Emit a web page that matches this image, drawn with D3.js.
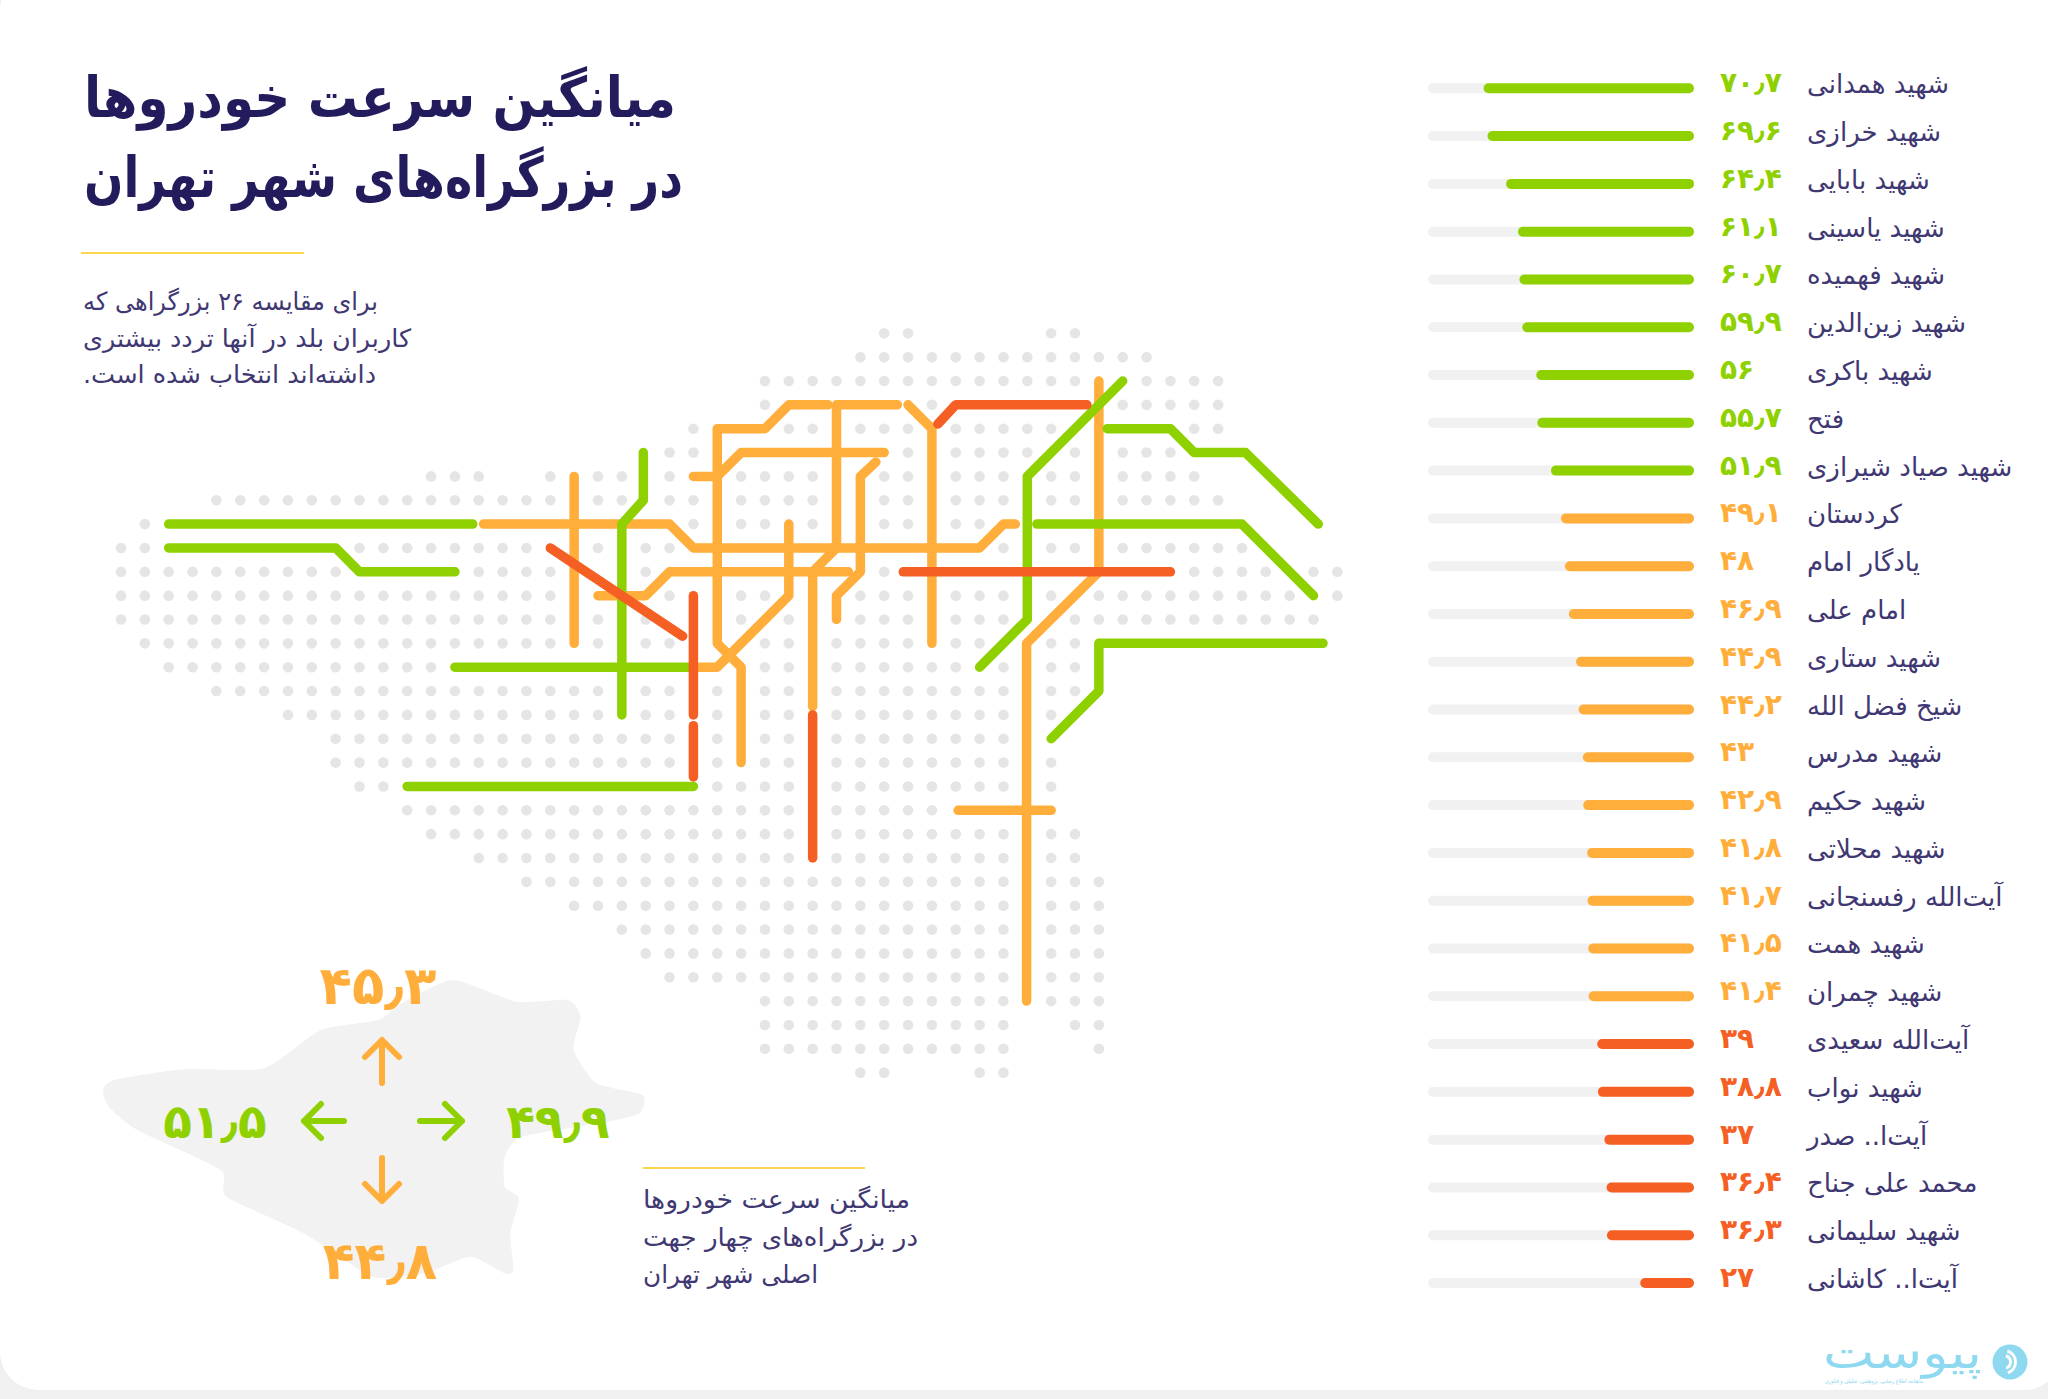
<!DOCTYPE html>
<html lang="fa">
<head>
<meta charset="utf-8">
<title>میانگین سرعت خودروها</title>
<script src="https://cdn.jsdelivr.net/npm/d3@7/dist/d3.min.js"></script>
<style>
  html, body { margin: 0; padding: 0; background: #f0f0f0; }
  svg { display: block; }
  text { font-family: "DejaVu Sans", "Noto Sans", sans-serif; }
</style>
</head>
<body>
<div id="chart"></div>
<script>
// highways, sorted by average speed
var highwayNames = [
  'شهید همدانی', 'شهید خرازی', 'شهید بابایی', 'شهید یاسینی', 'شهید فهمیده', 'شهید زین‌الدین',
  'شهید باکری', 'فتح', 'شهید صیاد شیرازی', 'کردستان', 'یادگار امام', 'امام علی', 'شهید ستاری',
  'شیخ فضل الله', 'شهید مدرس', 'شهید حکیم', 'شهید محلاتی', 'آیت‌الله رفسنجانی', 'شهید همت',
  'شهید چمران', 'آیت‌الله سعیدی', 'شهید نواب', 'آیت‌ا.. صدر', 'محمد علی جناح', 'شهید سلیمانی',
  'آیت‌ا.. کاشانی'
];
var highwaySpeeds = [
  70.7, 69.6, 64.4, 61.1, 60.7, 59.9, 56, 55.7, 51.9, 49.1, 48, 46.9, 44.9,
  44.2, 43, 42.9, 41.8, 41.7, 41.5, 41.4, 39, 38.8, 37, 36.4, 36.3, 27
];

// four main directions of the city
var directionNames = ['north', 'west', 'east', 'south'];
var directionSpeeds = [45.3, 51.5, 49.9, 44.8];

// map lines, as [column, row] on the dot grid
var greenLines = [
  [[2, 8], [14.75, 8]],
  [[2, 9], [9, 9], [10, 10], [14, 10]],
  [[21.9, 5], [21.9, 7], [21, 8], [21, 16]],
  [[14, 14], [24, 14]],
  [[12, 19], [24, 19]],
  [[42, 2], [38, 6], [38, 12], [36, 14]],
  [[41.35, 4], [44, 4], [45, 5], [47.15, 5], [50.2, 8]],
  [[38.4, 8], [47, 8], [50, 11]],
  [[50.4, 13], [41, 13], [41, 15], [39, 17]]
];
var orangeLines = [
  [[29.65, 3], [28, 3], [27, 4], [25, 4], [25, 13], [26, 14], [26, 18]],
  [[24, 6], [25, 6], [26, 5], [32, 5]],
  [[32.55, 3], [30, 3], [30, 9], [29, 10], [29, 15.65]],
  [[33, 3], [34, 4], [34, 13]],
  [[31.65, 5.4], [31, 6], [31, 10], [30, 11], [30, 12]],
  [[15.2, 8], [23, 8], [24, 9], [36, 9], [37, 8], [37.5, 8]],
  [[20, 11], [22, 11], [23, 10], [30.5, 10]],
  [[19, 6], [19, 13]],
  [[28, 8], [28, 11], [25, 14], [24, 14]],
  [[41, 2], [41, 10], [37.97, 13], [37.97, 28]],
  [[35.1, 20], [39, 20]]
];
var redLines = [
  [[18, 9], [23.55, 12.7]],
  [[24, 11], [24, 16]],
  [[24, 16.45], [24, 18.6]],
  [[34.25, 3.8], [35, 3], [40.5, 3]],
  [[32.8, 10], [44, 10]],
  [[29, 16], [29, 22]]
];

// dot grid, one list of [from, to] columns per row
var dotRows = [
  [[32, 33], [39, 40]],
  [[31, 43]],
  [[27, 40], [43, 46]],
  [[27, 27], [34, 34], [42, 46]],
  [[24, 24], [28, 29], [31, 33], [35, 39], [45, 46]],
  [[23, 24], [33, 33], [35, 38], [40, 40], [42, 44]],
  [[13, 15], [18, 18], [20, 21], [23, 23], [26, 29], [32, 33], [35, 37], [39, 40], [42, 45]],
  [[4, 18], [20, 21], [23, 24], [26, 29], [32, 33], [35, 37], [39, 40], [42, 46]],
  [[1, 1], [24, 24], [26, 27], [29, 29], [32, 33], [35, 36]],
  [[0, 1], [10, 17], [20, 20], [22, 23], [37, 37], [39, 40], [42, 47]],
  [[0, 9], [15, 18], [22, 22], [32, 32], [45, 48], [50, 51]],
  [[0, 18], [23, 23], [26, 27], [31, 33], [35, 37], [39, 39], [41, 49], [51, 51]],
  [[0, 18], [20, 20], [22, 22], [26, 26], [28, 28], [31, 33], [35, 37], [40, 50]],
  [[1, 18], [20, 20], [22, 23], [27, 28], [30, 33], [35, 36], [39, 40]],
  [[2, 13], [27, 28], [30, 35], [37, 37], [39, 40]],
  [[4, 20], [22, 23], [25, 25], [27, 28], [30, 37], [39, 40]],
  [[7, 20], [22, 23], [25, 25], [27, 28], [30, 37], [39, 39]],
  [[9, 23], [25, 25], [27, 28], [30, 37]],
  [[9, 23], [25, 25], [27, 28], [30, 37], [39, 39]],
  [[10, 11], [25, 28], [30, 37], [39, 39]],
  [[12, 28], [30, 34]],
  [[13, 28], [30, 37], [39, 40]],
  [[15, 28], [30, 37], [39, 40]],
  [[17, 37], [39, 41]],
  [[19, 37], [39, 41]],
  [[21, 37], [39, 41]],
  [[22, 37], [39, 41]],
  [[23, 37], [39, 41]],
  [[27, 37], [39, 41]],
  [[27, 37], [40, 41]],
  [[27, 37], [41, 41]],
  [[31, 32], [36, 37]]
];

// outline of Tehran province, in its own 1568 x 1200 units
var provinceOutline = [
  [40, 450], [60, 420], [180, 388], [320, 385], [420, 270], [520, 240], [560, 190], [650, 120],
  [760, 185], [850, 180], [872, 230], [860, 330], [900, 430], [980, 465], [975, 520], [920, 545],
  [770, 590], [740, 650], [740, 740], [765, 775], [750, 880], [755, 990], [740, 1000], [680, 950],
  [600, 1000], [510, 1010], [390, 880], [255, 770], [245, 690], [100, 570], [50, 500]
];

var titleLines = ['میانگین سرعت خودروها', 'در بزرگراه‌های شهر تهران'];
var introLines = ['برای مقایسه ۲۶ بزرگراهی که', 'کاربران بلد در آنها تردد بیشتری', 'داشته‌اند انتخاب شده است.'];
var noteLines = ['میانگین سرعت خودروها', 'در بزرگراه‌های چهار جهت', 'اصلی شهر تهران'];

var colors = { green: '#8fd100', orange: '#ffae3b', red: '#f55f24', navy: '#231c5c', body: '#3f3872',
  track: '#f1f1f1', dot: '#e5e5e5', land: '#f2f2f2', rule: '#ffd44f', logo: '#8ed8f0' };

var width = 2048, height = 1399;

var svg = d3.select('#chart').append('svg')
  .attr('width', width)
  .attr('height', height);

// white card, cut by the top and right of the page
svg.append('rect')
  .attr('x', 0).attr('y', -28)
  .attr('width', 2062).attr('height', 1418)
  .attr('rx', 38)
  .attr('fill', '#fff');

var persianDigits = '۰۱۲۳۴۵۶۷۸۹';
function toPersian(v) {
  return String(v).replace('.', '٫').replace(/\d/g, function(d) { return persianDigits[d]; });
}

// speed colour bands
var speedColor = d3.scaleThreshold().domain([40, 49.5]).range([colors.red, colors.orange, colors.green]);

// right-to-left block of lines, left aligned and fitted to the given widths
function textBlock(lines, x, y, step, size, widths, weight, color) {
  svg.append('g').attr('direction', 'rtl').selectAll('text').data(lines).join('text')
    .attr('x', x)
    .attr('y', function(d, i) { return y + i * step; })
    .attr('text-anchor', 'end')
    .attr('font-size', size)
    .attr('font-weight', weight)
    .attr('fill', color)
    .attr('textLength', function(d, i) { return widths[i]; })
    .attr('lengthAdjust', 'spacingAndGlyphs')
    .text(function(d) { return d; });
}

// ---- header ----
textBlock(titleLines, 84, 117, 80, 56, [592, 599], 700, colors.navy);

svg.append('line')
  .attr('x1', 81).attr('x2', 304).attr('y1', 253).attr('y2', 253)
  .attr('stroke', colors.rule).attr('stroke-width', 2);

textBlock(introLines, 83, 310, 36.5, 25, [295, 328, 293], 400, colors.body);

// ---- dot map ----
var gridX = d3.scaleLinear().domain([0, 1]).range([121, 144.85]);
var gridY = d3.scaleLinear().domain([0, 1]).range([333.3, 357.15]);

var dots = [];
dotRows.forEach(function(spans, row) {
  spans.forEach(function(span) {
    d3.range(span[0], span[1] + 1).forEach(function(col) { dots.push([col, row]); });
  });
});

svg.append('g').selectAll('circle').data(dots).join('circle')
  .attr('cx', function(d) { return gridX(d[0]); })
  .attr('cy', function(d) { return gridY(d[1]); })
  .attr('r', 5.3)
  .attr('fill', colors.dot);

var mapLine = d3.line()
  .x(function(d) { return gridX(d[0]); })
  .y(function(d) { return gridY(d[1]); });

[[orangeLines, colors.orange], [greenLines, colors.green], [redLines, colors.red]].forEach(function(group) {
  svg.append('g').selectAll('path').data(group[0]).join('path')
    .attr('d', mapLine)
    .attr('fill', 'none')
    .attr('stroke', group[1])
    .attr('stroke-width', 9.5)
    .attr('stroke-linecap', 'round')
    .attr('stroke-linejoin', 'round');
});

// ---- province and directions ----
var outlineX = d3.scaleLinear().domain([0, 1568]).range([80, 980]);
var outlineY = d3.scaleLinear().domain([0, 1200]).range([940, 1340]);

svg.append('path')
  .datum(provinceOutline)
  .attr('d', d3.line()
    .x(function(d) { return outlineX(d[0]); })
    .y(function(d) { return outlineY(d[1]); })
    .curve(d3.curveCardinalClosed.tension(0.4)))
  .attr('fill', colors.land);

var directionLayout = {
  north: { x: 378, y: 1004, size: 53, arrow: [[382, 1083], [382, 1040]] },
  west: { x: 215, y: 1138, size: 47, arrow: [[344, 1121], [304, 1121]] },
  east: { x: 558, y: 1138, size: 47, arrow: [[420, 1121], [462, 1121]] },
  south: { x: 380, y: 1279, size: 52, arrow: [[382, 1158], [382, 1201]] }
};

var direction = svg.append('g').selectAll('g')
  .data(directionNames.map(function(name, i) { return { name: name, speed: directionSpeeds[i] }; }))
  .join('g');

direction.append('text')
  .attr('x', function(d) { return directionLayout[d.name].x; })
  .attr('y', function(d) { return directionLayout[d.name].y; })
  .attr('text-anchor', 'middle')
  .attr('font-size', function(d) { return directionLayout[d.name].size; })
  .attr('font-weight', 700)
  .attr('fill', function(d) { return speedColor(d.speed); })
  .text(function(d) { return toPersian(d.speed); });

// shaft plus a two-stroke head
direction.append('path')
  .attr('d', function(d) {
    var a = directionLayout[d.name].arrow,
        ux = Math.sign(a[1][0] - a[0][0]),
        uy = Math.sign(a[1][1] - a[0][1]),
        p = d3.path();
    p.moveTo(a[0][0], a[0][1]);
    p.lineTo(a[1][0], a[1][1]);
    p.moveTo(a[1][0] - ux * 17 + uy * 17, a[1][1] - uy * 17 + ux * 17);
    p.lineTo(a[1][0], a[1][1]);
    p.lineTo(a[1][0] - ux * 17 - uy * 17, a[1][1] - uy * 17 - ux * 17);
    return p.toString();
  })
  .attr('fill', 'none')
  .attr('stroke', function(d) { return speedColor(d.speed); })
  .attr('stroke-width', 6)
  .attr('stroke-linecap', 'round')
  .attr('stroke-linejoin', 'round');

svg.append('line')
  .attr('x1', 643).attr('x2', 865).attr('y1', 1168).attr('y2', 1168)
  .attr('stroke', colors.rule).attr('stroke-width', 2);

textBlock(noteLines, 643, 1208, 37.5, 25, [267, 275, 175], 400, colors.body);

// ---- ranking ----
var speedX = d3.scaleLinear().domain([12, 86.2]).range([1694, 1428]);
var rowY = d3.scalePoint().domain(highwayNames).range([88.3, 1283]);

var row = svg.append('g').selectAll('g')
  .data(highwayNames.map(function(name, i) { return { name: name, speed: highwaySpeeds[i] }; }))
  .join('g')
  .attr('transform', function(d) { return 'translate(0,' + rowY(d.name) + ')'; });

row.append('rect')
  .attr('x', speedX.range()[1])
  .attr('y', -5)
  .attr('width', speedX.range()[0] - speedX.range()[1])
  .attr('height', 10)
  .attr('rx', 5)
  .attr('fill', colors.track);

row.append('rect')
  .attr('x', function(d) { return speedX(d.speed); })
  .attr('y', -5)
  .attr('width', function(d) { return speedX.range()[0] - speedX(d.speed); })
  .attr('height', 10)
  .attr('rx', 5)
  .attr('fill', function(d) { return speedColor(d.speed); });

row.append('text')
  .attr('x', 1720)
  .attr('y', 4)
  .attr('font-size', 28)
  .attr('font-weight', 700)
  .attr('fill', function(d) { return speedColor(d.speed); })
  .text(function(d) { return toPersian(d.speed); });

row.append('text')
  .attr('x', 1807)
  .attr('y', 5)
  .attr('direction', 'rtl')
  .attr('text-anchor', 'end')
  .attr('font-size', 26)
  .attr('fill', colors.body)
  .text(function(d) { return d.name; });

// ---- logo ----
var logo = svg.append('g');
logo.append('circle').attr('cx', 2010).attr('cy', 1362).attr('r', 17.5).attr('fill', colors.logo);
[[5, 8], [10, 13]].forEach(function(r) {
  logo.append('path')
    .attr('transform', 'translate(2004,1362)')
    .attr('d', d3.arc().innerRadius(r[0]).outerRadius(r[1]).startAngle(0.3).endAngle(2.8)())
    .attr('fill', '#fff');
});
logo.append('text')
  .attr('x', 1823).attr('y', 1368)
  .attr('direction', 'rtl')
  .attr('text-anchor', 'end')
  .attr('font-size', 44)
  .attr('fill', colors.logo)
  .attr('textLength', 159)
  .attr('lengthAdjust', 'spacingAndGlyphs')
  .text('پیوست');
logo.append('text')
  .attr('x', 1825).attr('y', 1383)
  .attr('direction', 'rtl')
  .attr('text-anchor', 'end')
  .attr('font-size', 6)
  .attr('fill', colors.logo)
  .attr('textLength', 98)
  .attr('lengthAdjust', 'spacingAndGlyphs')
  .text('ماهنامه اطلاع رسانی، پژوهشی، تحلیلی و فناوری');
</script>
</body>
</html>
